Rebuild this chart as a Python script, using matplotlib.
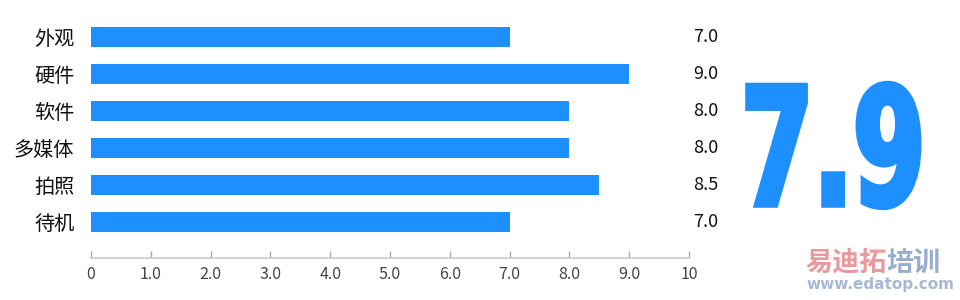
import matplotlib
matplotlib.use("Agg")
import matplotlib.pyplot as plt
from matplotlib.patheffects import AbstractPathEffect
from matplotlib.transforms import Affine2D, Bbox
from matplotlib.text import Text

plt.rcParams['font.family'] = ['Noto Sans CJK SC', 'DejaVu Sans']

categories = ["外观", "硬件", "软件", "多媒体", "拍照", "待机"]
scores = [7.0, 9.0, 8.0, 8.0, 8.5, 7.0]
xticks = [0, 1, 2, 3, 4, 5, 6, 7, 8, 9, 10]
xtick_labels = ["0", "1.0", "2.0", "3.0", "4.0", "5.0", "6.0", "7.0", "8.0", "9.0", "10"]
average = round(sum(scores) / len(scores), 1)

BLUE = "#1E8FFF"
SX = 0.635


class Squeeze(AbstractPathEffect):
    """Compress glyphs horizontally and thicken them, keeping the text as text."""
    def __init__(self, sx=0.6, lw=2.0):
        super().__init__()
        self.sx = sx
        self.lw = lw

    def draw_path(self, renderer, gc, tpath, affine, rgbFace):
        aff = Affine2D().scale(self.sx, 1.0) + affine
        gc0 = renderer.new_gc()
        gc0.copy_properties(gc)
        gc0.set_linewidth(self.lw)
        gc0.set_foreground(rgbFace)
        gc0.set_joinstyle('miter')
        renderer.draw_path(gc0, tpath, aff, rgbFace)
        gc0.restore()


class SqueezedText(Text):
    """Left-anchored text whose extent reflects the horizontal squeeze."""
    def __init__(self, *args, sx=1.0, **kwargs):
        super().__init__(*args, **kwargs)
        self._sx = sx

    def get_window_extent(self, renderer=None, dpi=None):
        bb = super().get_window_extent(renderer, dpi)
        return Bbox.from_extents(bb.x0, bb.y0, bb.x0 + (bb.x1 - bb.x0) * self._sx, bb.y1)


fig = plt.figure(figsize=(9.6, 3.0), dpi=100)
ax = fig.add_axes([91 / 960, 1 - 258 / 300, (689 - 91) / 960, 258 / 300])

ypos = list(range(len(categories)))
ax.barh(ypos, scores, height=0.52, color=BLUE, left=0)
ax.set_ylim(5.97, -1.0)
ax.set_xlim(0, 10)

ax.set_yticks(ypos)
ax.set_yticklabels(categories, fontsize=14.5, color="#111111")
ax.tick_params(axis='y', length=0, pad=12)

ax.set_xticks(xticks)
ax.set_xticklabels(xtick_labels, fontsize=11.5, color="#444444")
ax.tick_params(axis='x', direction='in', length=5, width=1, color="#aaaaaa", pad=6)

for s in ['top', 'right', 'left']:
    ax.spines[s].set_visible(False)
ax.spines['bottom'].set_color("#cccccc")
ax.spines['bottom'].set_linewidth(1.2)

for y, v in zip(ypos, scores):
    ax.text(10.07, y, f"{v:.1f}", ha='left', va='center', fontsize=13,
            color="#111111", clip_on=False)

big = SqueezedText(741 / 960, 1 - 205 / 300, f"{average:.1f}", sx=SX,
                   family='DejaVu Sans', fontweight='bold', fontsize=118,
                   color=BLUE, ha='left', va='baseline',
                   transform=fig.transFigure)
big.set_path_effects([Squeeze(SX, 4.0)])
fig.add_artist(big)

# watermark
fig.text(805 / 960, 1 - 271 / 300, "易迪拓", fontsize=19.5, fontweight='bold',
         color="#ea9a9c", ha='left', va='baseline')
fig.text(886 / 960, 1 - 271 / 300, "培训", fontsize=19.5, fontweight='bold',
         color="#97acd0", ha='left', va='baseline')
fig.text(806 / 960, 1 - 289 / 300, "www.edatop.com", family='DejaVu Sans',
         fontsize=11, fontweight='bold', color="#a9b8d2", ha='left', va='baseline')

fig.savefig("out.png", dpi=100)
